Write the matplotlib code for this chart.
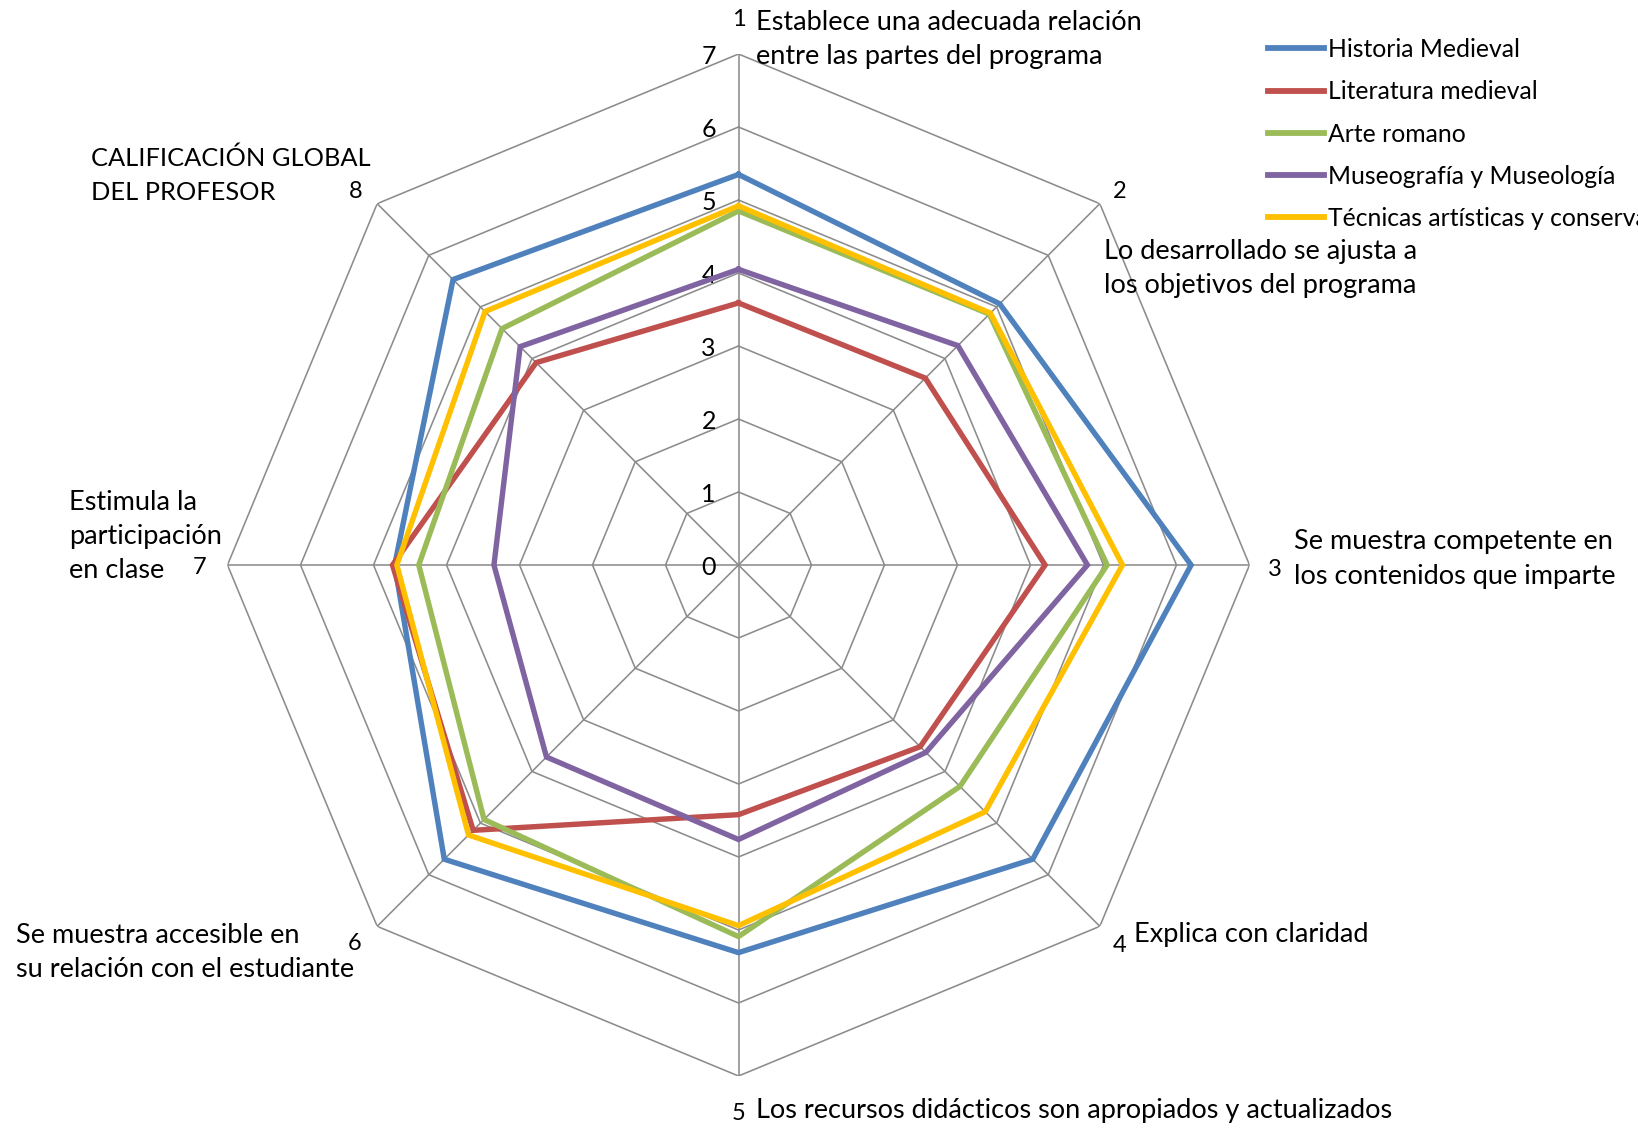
import numpy as np
import matplotlib.pyplot as plt

plt.rcParams['font.family'] = ['Lato', 'DejaVu Sans']

categorias = ['1', '2', '3', '4', '5', '6', '7', '8']
etiquetas = [
    'Establece una adecuada relación\nentre las partes del programa',
    'Lo desarrollado se ajusta a\nlos objetivos del programa',
    'Se muestra competente en\nlos contenidos que imparte',
    'Explica con claridad',
    'Los recursos didácticos son apropiados y actualizados',
    'Se muestra accesible en\nsu relación con el estudiante',
    'Estimula la\nparticipación\nen clase',
    'CALIFICACIÓN GLOBAL\nDEL PROFESOR',
]

asignaturas = ['Historia Medieval', 'Literatura medieval', 'Arte romano',
               'Museografía y Museología', 'Técnicas artísticas y conservación']
historia = [5.35, 5.06, 6.20, 5.70, 5.31, 5.70, 4.71, 5.53]
literatura = [3.59, 3.62, 4.20, 3.52, 3.42, 5.14, 4.74, 3.92]
arte = [4.85, 4.86, 5.05, 4.29, 5.09, 4.93, 4.38, 4.58]
museografia = [4.05, 4.25, 4.78, 3.63, 3.76, 3.72, 3.35, 4.23]
tecnicas = [4.92, 4.88, 5.26, 4.78, 4.94, 5.23, 4.68, 4.91]
series = [historia, literatura, arte, museografia, tecnicas]
colores = ['#4F81BD', '#C0504D', '#9BBB59', '#8064A2', '#FFC000']

W, H = 1638, 1128
fig = plt.figure(figsize=(W / 100, H / 100), dpi=100)

cx, cy, R = 738.5, 565, 511
ax = fig.add_axes([(cx - R) / W, (H - cy - R) / H, 2 * R / W, 2 * R / H], projection='polar')
ax.set_theta_zero_location('N')
ax.set_theta_direction(-1)
ax.set_ylim(0, 7)
ax.grid(False)
ax.spines['polar'].set_visible(False)
ax.set_xticks([])
ax.set_yticks([])
ax.patch.set_visible(False)

n = len(categorias)
ang = np.linspace(0, 2 * np.pi, n, endpoint=False)
ang_c = np.append(ang, ang[0])

gris = '#8C8C8C'
for k in range(1, 8):
    ax.plot(ang_c, [k] * (n + 1), color=gris, lw=1.15, zorder=1)
for a in ang:
    ax.plot([a, a], [0, 7], color=gris, lw=1.15, zorder=1)

for k in range(0, 8):
    ax.annotate(str(k), xy=(0, k), xytext=(-21.5, -1.5), textcoords='offset points',
                ha='center', va='center', fontsize=18)

for vals, col, nom in zip(series, colores, asignaturas):
    ax.plot(ang_c, vals + [vals[0]], color=col, lw=3.9, label=nom, zorder=3,
            solid_joinstyle='miter')


def ftext(x, y, s, **kw):
    fig.text(x / W, 1 - y / H, s, **kw)


# numeros de categoria
num_pos = [(738.5, 20), (1120, 192), (1275, 569), (1120, 945),
           (738.5, 1114), (355, 944), (200, 568), (356, 192)]
for c, (x, y) in zip(categorias, num_pos):
    ftext(x, y, c, ha='center', va='center', fontsize=17)

# textos de categoria (x izquierda, y centro)
txt_pos = [(756, 39.5), (1104, 268.5), (1294, 559), (1134, 934.5),
           (756, 1110.5), (16, 952.5), (69, 536.5), (91, 175.5)]
tam = [19.5, 19.5, 19.5, 19.5, 19.5, 19.5, 19.5, 18.3]
for t, (x, y), fs in zip(etiquetas, txt_pos, tam):
    ftext(x, y, t, ha='left', va='center', fontsize=fs, linespacing=1.46 * 19.5 / fs)

leg = fig.legend(loc='upper left', bbox_to_anchor=(1268 / W, 1 - 38 / H),
                 frameon=False, fontsize=17.8, handlelength=2.27, handletextpad=0.16,
                 labelspacing=0.78, borderpad=0, borderaxespad=0)
for ln in leg.get_lines():
    ln.set_linewidth(4.2)

plt.savefig('out.png', dpi=100)
